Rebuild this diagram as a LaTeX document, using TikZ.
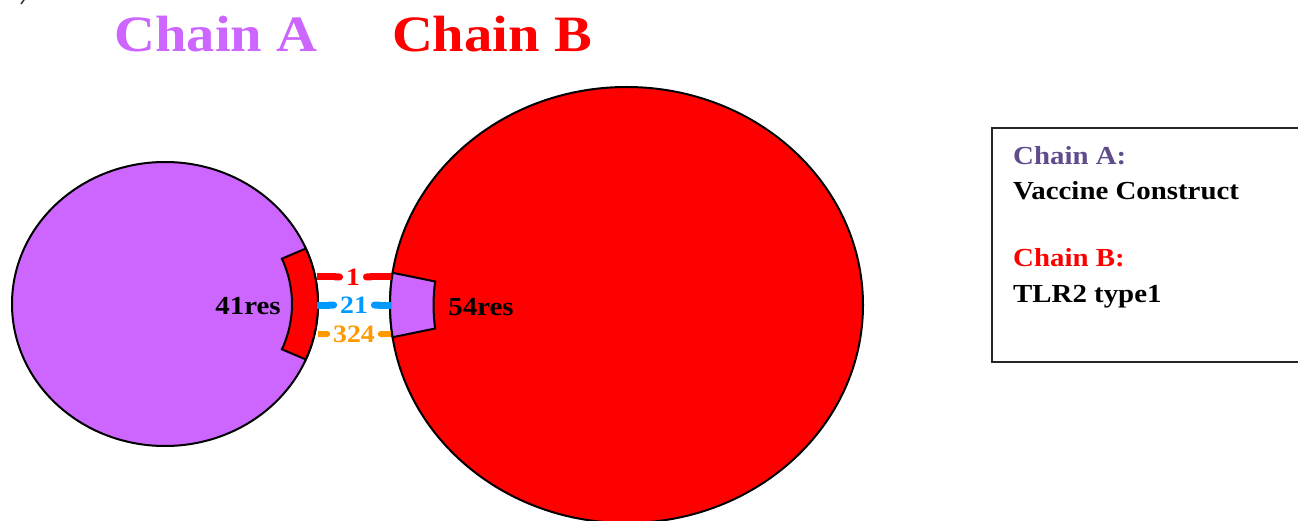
\documentclass[tikz,border=0pt]{standalone}
\usepackage{fontspec}
\setmainfont{Liberation Serif}[FakeStretch=1.11]
\usepackage{tikz}
\usetikzlibrary{calc,arrows.meta}

\definecolor{violetA}{RGB}{204,102,255}
\definecolor{redB}{RGB}{255,0,0}
\definecolor{bondblue}{RGB}{0,153,255}
\definecolor{bondorange}{RGB}{255,153,0}
\definecolor{legpurple}{RGB}{96,76,140}

\tikzset{
  chain/.style={draw=black, line width=2pt},
  bondlab/.style={inner sep=3pt, outer sep=0pt, font=\fontsize{25}{28}\selectfont\bfseries},
  bond/.style={line width=7pt, -{Round Cap}},
  reslab/.style={font=\fontsize{26}{30}\selectfont\bfseries},
  legtext/.style={anchor=base west, inner sep=0pt, font=\fontsize{26}{30}\selectfont\bfseries}
}

\begin{document}
\begin{tikzpicture}[x=1pt, y=-1pt]
  \useasboundingbox (0,0) rectangle (1298,521);
  % Titles
  \node[anchor=base, violetA, font=\fontsize{51}{60}\selectfont\bfseries] (titleA) at (216,52) {Chain A};
  \node[anchor=base, redB, font=\fontsize{51}{60}\selectfont\bfseries] (titleB) at (492,52) {Chain B};
  \draw[line width=1.5pt, black!80] (21,4) -- (24,0);
  % Chain A and its interface patch
  \coordinate (cA) at (165,304);
  \fill[violetA, chain] (cA) ellipse [x radius=153, y radius=142];
  \fill[redB, chain] ($(cA)+(-23:153 and 142)$)
    arc[start angle=-23, end angle=23, x radius=153, y radius=142]
    -- ($(cA)+(23:127 and 116)$)
    arc[start angle=23, end angle=-23, x radius=127, y radius=116] -- cycle;
  \node[reslab] (resA) at (248,306) {41res};
  % Chain B and its interface patch
  \coordinate (cB) at (626.5,305);
  \fill[redB, chain] (cB) ellipse [x radius=236.5, y radius=218];
  \fill[violetA, chain] ($(cB)+(171.5:236.5 and 218)$)
    arc[start angle=171.5, end angle=188.5, x radius=236.5, y radius=218]
    -- ($(cB)+(187.5:193 and 180)$)
    arc[start angle=187.5, end angle=172.5, x radius=193, y radius=180] -- cycle;
  \node[reslab] (resB) at (481,307) {54res};
  % Bonds between the chains
  \coordinate (a1) at (317,277);
  \coordinate (b1) at (391,277);
  \coordinate (a2) at (317,305);
  \coordinate (b2) at (391,305);
  \coordinate (a3) at (318,334);
  \coordinate (b3) at (391,334);
  \node[bondlab, redB] (n1) at (353,277) {1};
  \node[bondlab, bondblue] (n21) at (354,305) {21};
  \node[bondlab, bondorange] (n324) at (354,334) {324};
  \draw[bond, redB] (a1) -- (n1);
  \draw[bond, redB] (b1) -- (n1);
  \draw[bond, bondblue] (a2) -- (n21);
  \draw[bond, bondblue] (b2) -- (n21);
  \draw[bond, bondorange, line width=6pt] (a3) -- (n324);
  \draw[bond, bondorange, line width=6pt] (b3) -- (n324);
  % Legend
  \draw[line width=2pt, black!85] (992,128) rectangle (1320,362);
  \node[legtext, legpurple] (legA) at (1013,165) {Chain A:};
  \node[legtext] (legAname) at (1013,200) {Vaccine Construct};
  \node[legtext, redB] (legB) at (1013,267) {Chain B:};
  \node[legtext] (legBname) at (1013,302) {TLR2 type1};
\end{tikzpicture}
\end{document}
